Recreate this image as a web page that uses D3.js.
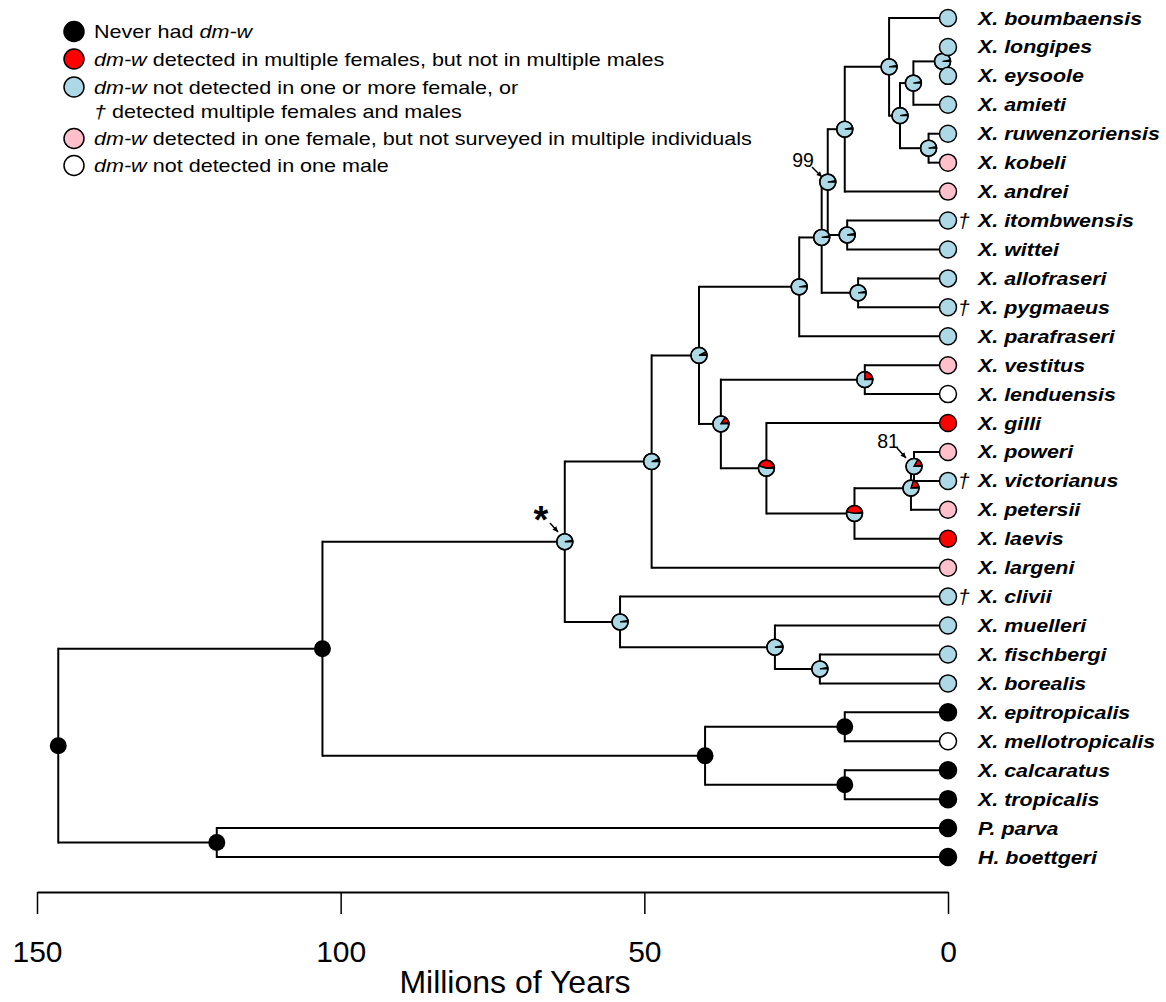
<!DOCTYPE html>
<html>
<head>
<meta charset="utf-8">
<title>dm-w tree</title>
<script src="https://cdn.jsdelivr.net/npm/d3@7"></script>
<style>
  body { margin: 0; background: #fff; }
  text { font-family: "Liberation Sans", Arial, Helvetica, sans-serif; }
</style>
</head>
<body>
<script>
// tips, top to bottom
var species = ["X. boumbaensis", "X. longipes", "X. eysoole", "X. amieti", "X. ruwenzoriensis",
  "X. kobeli", "X. andrei", "X. itombwensis", "X. wittei", "X. allofraseri", "X. pygmaeus",
  "X. parafraseri", "X. vestitus", "X. lenduensis", "X. gilli", "X. poweri", "X. victorianus",
  "X. petersii", "X. laevis", "X. largeni", "X. clivii", "X. muelleri", "X. fischbergi",
  "X. borealis", "X. epitropicalis", "X. mellotropicalis", "X. calcaratus", "X. tropicalis",
  "P. parva", "H. boettgeri"];
// 0 never had, 1 multiple females, 2 not detected / dagger, 3 one female, 4 one male
var tipState = [2, 2, 2, 2, 2, 3, 3, 2, 2, 2, 2, 2, 3, 4, 1, 3, 2, 3, 1, 3, 2, 2, 2, 2, 0, 4, 0, 0, 0, 0];
var dagger = ["X. itombwensis", "X. pygmaeus", "X. victorianus", "X. clivii"];

// internal nodes: name, children, age (Myr), share red on the pie
var nodeName = ["n1", "n2", "n3", "n4", "n5", "n6", "n7", "n8", "n9", "n10", "n11", "n12", "n13", "n14",
  "n15", "n16", "n17", "n18", "n19", "n20", "n21", "n22", "n23", "n24", "n25", "n26", "n27", "n28", "n29"];
var nodeKids = [
  ["n2", "n3"], ["n4", "n5"], ["P. parva", "H. boettgeri"], ["n6", "n7"], ["n8", "n9"],
  ["n10", "X. largeni"], ["X. clivii", "n11"], ["X. epitropicalis", "X. mellotropicalis"],
  ["X. calcaratus", "X. tropicalis"], ["n13", "n14"], ["X. muelleri", "n12"],
  ["X. fischbergi", "X. borealis"], ["n15", "X. parafraseri"], ["n25", "n26"], ["n16", "n17"],
  ["n18", "n19"], ["X. allofraseri", "X. pygmaeus"], ["n20", "X. andrei"],
  ["X. itombwensis", "X. wittei"], ["X. boumbaensis", "n21"], ["n22", "n23"], ["n24", "X. amieti"],
  ["X. ruwenzoriensis", "X. kobeli"], ["X. longipes", "X. eysoole"], ["X. vestitus", "X. lenduensis"],
  ["X. gilli", "n27"], ["n28", "X. laevis"], ["n29", "X. petersii"], ["X. poweri", "X. victorianus"]];
var nodeAge = [146.5, 103.0, 120.4, 63.1, 40.0, 48.8, 54.0, 17.0, 17.0, 41.0, 28.5, 21.1, 24.5, 37.4,
  20.8, 19.8, 14.8, 17.0, 16.6, 9.7, 7.9, 5.7, 3.2, 0.9, 13.7, 29.9, 15.4, 6.1, 5.6];
var nodeRed = [0, 0, 0, 0, 0, 0.03, 0, 0, 0, 0.05, 0, 0, 0, 0.13,
  0, 0, 0, 0, 0, 0, 0, 0, 0, 0, 0.22, 0.42, 0.44, 0.17, 0.14];
var nodeBlack = ["n1", "n2", "n3", "n5", "n8", "n9"];
var blackSlice = 0.03;

var ticks = [150, 100, 50, 0];
var stateColor = ["#000000", "#ff0000", "#add8e6", "#ffc0cb", "#ffffff"];
var legendText = [
  [null, "Never had ", "dm-w"],
  ["dm-w", " detected in multiple females, but not in multiple males"],
  ["dm-w", " not detected in one or more female, or"],
  ["\u2020", " detected multiple females and males"],
  ["dm-w", " detected in one female, but not surveyed in multiple individuals"],
  ["dm-w", " not detected in one male"]];
var legendState = [0, 1, 2, null, 3, 4];

var W = 1166, H = 1002;
var svg = d3.select("body").append("svg").attr("width", W).attr("height", H);

var x = d3.scaleLinear().domain([150, 0]).range([37, 948]);
var y = d3.scalePoint().domain(species).range([18, 857]);

// build hierarchy
var links = [{ id: "n1", parent: null }];
nodeName.forEach(function (n, i) {
  nodeKids[i].forEach(function (k) { links.push({ id: k, parent: n }); });
});
var root = d3.stratify().id(function (d) { return d.id; }).parentId(function (d) { return d.parent; })(links);
root.eachAfter(function (d) {
  var i = nodeName.indexOf(d.id);
  if (i < 0) {
    d.age = 0;
    d.py = y(d.id);
  } else {
    d.age = nodeAge[i];
    d.red = nodeRed[i];
    d.py = d3.mean(d.children, function (c) { return c.py; });
  }
  d.px = x(d.age);
});

var g = svg.append("g");

// horizontal branches
g.selectAll("line.h").data(root.descendants().filter(function (d) { return d.parent; }))
  .enter().append("line")
  .attr("x1", function (d) { return d.parent.px; })
  .attr("x2", function (d) { return d.px; })
  .attr("y1", function (d) { return d.py; })
  .attr("y2", function (d) { return d.py; })
  .attr("stroke", "#000").attr("stroke-width", 2);

// vertical connectors
g.selectAll("line.v").data(root.descendants().filter(function (d) { return d.children; }))
  .enter().append("line")
  .attr("x1", function (d) { return d.px; })
  .attr("x2", function (d) { return d.px; })
  .attr("y1", function (d) { return d3.min(d.children, function (c) { return c.py; }); })
  .attr("y2", function (d) { return d3.max(d.children, function (c) { return c.py; }); })
  .attr("stroke", "#000").attr("stroke-width", 2).attr("stroke-linecap", "square");

// node pies (start at 3 o'clock, counterclockwise)
var arc = d3.arc().innerRadius(0).outerRadius(8);
var TAU = Math.PI * 2;
root.descendants().filter(function (d) { return d.children; }).forEach(function (d) {
  var ng = g.append("g").attr("transform", "translate(" + d.px + "," + d.py + ")");
  if (nodeBlack.indexOf(d.id) >= 0) {
    ng.append("circle").attr("r", 8.5).attr("fill", "#000");
    return;
  }
  var parts = [[blackSlice, "#000"], [d.red, "#ff0000"], [1 - blackSlice - d.red, "#add8e6"]];
  var a = 0;
  parts.forEach(function (p) {
    if (p[0] <= 0) return;
    var a0 = a, a1 = a + p[0];
    a = a1;
    ng.append("path")
      .attr("d", arc({ startAngle: Math.PI / 2 - a1 * TAU, endAngle: Math.PI / 2 - a0 * TAU }))
      .attr("fill", p[1]).attr("stroke", "#000").attr("stroke-width", 1.3);
  });
  ng.append("circle").attr("r", 8).attr("fill", "none").attr("stroke", "#000").attr("stroke-width", 1.6);
});

// tips
var tips = root.leaves();
g.selectAll("circle.tip").data(tips).enter().append("circle")
  .attr("cx", function (d) { return d.px; })
  .attr("cy", function (d) { return d.py; })
  .attr("r", 8.5)
  .attr("fill", function (d) { return stateColor[tipState[species.indexOf(d.id)]]; })
  .attr("stroke", "#000").attr("stroke-width", 1.5);

g.selectAll("text.dag").data(tips.filter(function (d) { return dagger.indexOf(d.id) >= 0; }))
  .enter().append("text")
  .attr("x", function (d) { return d.px + 10; })
  .attr("y", function (d) { return d.py + 7.5; })
  .attr("font-size", 21).attr("font-style", "italic").text("\u2020");

g.selectAll("g.lab").data(tips).enter().append("g")
  .attr("transform", function (d) { return "translate(978," + (d.py + 6.5) + ") scale(1.19,1)"; })
  .append("text")
  .attr("font-size", 18).attr("font-weight", "bold").attr("font-style", "italic")
  .text(function (d) { return d.id; });

// annotations
function note(txt, tx, ty, fs, fw, ax1, ay1, ax2, ay2) {
  svg.append("text").attr("x", tx).attr("y", ty).attr("font-size", fs).attr("font-weight", fw)
    .attr("text-anchor", "middle").text(txt);
  svg.append("line").attr("x1", ax1).attr("y1", ay1).attr("x2", ax2).attr("y2", ay2)
    .attr("stroke", "#000").attr("stroke-width", 1.5);
  var ang = Math.atan2(ay2 - ay1, ax2 - ax1), L = 6;
  svg.append("path")
    .attr("d", "M" + ax2 + "," + ay2 +
      "L" + (ax2 - L * Math.cos(ang - 0.45)) + "," + (ay2 - L * Math.sin(ang - 0.45)) +
      "L" + (ax2 - L * Math.cos(ang + 0.45)) + "," + (ay2 - L * Math.sin(ang + 0.45)) + "Z")
    .attr("fill", "#000");
}
note("99", 803, 167, 19.5, "normal", 812, 167, 822, 177);
note("81", 888, 448, 19.5, "normal", 897, 448, 906, 458);
note("*", 541, 533, 38, "bold", 550, 523, 558, 532);

// axis
var axis = d3.axisBottom(x).tickValues(ticks).tickSize(22).tickSizeOuter(0).tickPadding(27)
  .tickFormat(d3.format("d"));
var ag = svg.append("g").attr("transform", "translate(0,892)").call(axis);
ag.select(".domain").attr("stroke-width", 2);
ag.selectAll(".tick line").attr("stroke-width", 1.5);
ag.selectAll(".tick text").attr("font-size", 30).attr("fill", "#000")
  .attr("font-family", "'Liberation Sans', Arial, sans-serif");
svg.append("text").attr("x", 515).attr("y", 993).attr("text-anchor", "middle")
  .attr("font-size", 32).text("Millions of Years");

// legend
var lg = svg.append("g");
var rowY = [31.5, 59, 87, 111.5, 138.5, 165.5];
legendText.forEach(function (row, i) {
  if (legendState[i] !== null) {
    lg.append("circle").attr("cx", 74).attr("cy", rowY[i]).attr("r", 10)
      .attr("fill", stateColor[legendState[i]]).attr("stroke", "#000").attr("stroke-width", 1.5);
  }
  var t = lg.append("g").attr("transform", "translate(94," + (rowY[i] + 6.5) + ") scale(1.16,1)")
    .append("text").attr("font-size", 18.6);
  if (row[0] === null) {
    t.append("tspan").text(row[1]);
    t.append("tspan").attr("font-style", "italic").text(row[2]);
  } else {
    t.append("tspan").attr("font-style", "italic").text(row[0]);
    t.append("tspan").text(row[1]);
  }
});
</script>
</body>
</html>
